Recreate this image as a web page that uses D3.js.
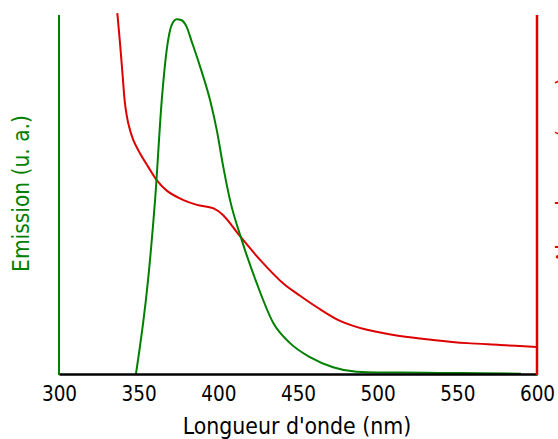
<!DOCTYPE html>
<html>
<head>
<meta charset="utf-8">
<script src="https://cdn.jsdelivr.net/npm/d3@7"></script>
<style>
  body { margin: 0; background: #fff; }
  text { font-family: "DejaVu Sans Condensed", "DejaVu Sans", sans-serif; font-stretch: condensed; }
</style>
</head>
<body>
<script>
// emission spectrum (green), arbitrary units
var emWave = [348.3, 355.9, 360.3, 364.5, 367.6, 370.7, 373.9, 376.6, 380.1, 383.3, 388.5, 394.8, 399.0, 403.1, 407.3, 414.7, 424.1, 434.5, 445.0, 457.5, 472.0, 486.8, 500, 514.0, 539, 565, 590];
var emValue = [0, 26.2, 48.5, 76.3, 90.3, 97.2, 98.8, 98.6, 96.7, 92.6, 85.7, 76.3, 68.0, 57.7, 48.5, 37.3, 25.3, 14.2, 8.6, 4.7, 1.9, 0.6, 0.4, 0.4, 0.3, 0.2, 0.1];

// absorption spectrum (red), arbitrary units
var abWave = [336.6, 338.3, 340.0, 341.4, 343.5, 346.6, 350.8, 356.0, 361.3, 367.8, 377.8, 386.6, 396.7, 402.9, 413.6, 426.2, 440.6, 451.3, 461.9, 476.4, 493.3, 514.0, 534.7, 556.1, 576.8, 600];
var abValue = [100.5, 92.1, 82.8, 75.4, 69.8, 65.2, 61.5, 57.7, 54.0, 51.0, 48.5, 47.1, 46.2, 44.3, 38.4, 31.8, 25.3, 21.8, 18.6, 14.8, 12.3, 10.6, 9.5, 8.6, 8.1, 7.5];

var xTicks = [300, 350, 400, 450, 500, 550, 600];

var width = 558, height = 439;
var mLeft = 59, mRight = 537, mTop = 15, mBottom = 374;

var svg = d3.select("body").append("svg")
  .attr("width", width)
  .attr("height", height);

var x = d3.scaleLinear().domain([300, 600]).range([mLeft, mRight]);
var y = d3.scaleLinear().domain([0, 100]).range([mBottom, mTop]);

svg.append("clipPath").attr("id", "plot")
  .append("rect")
  .attr("x", mLeft).attr("y", mTop - 2)
  .attr("width", mRight - mLeft).attr("height", mBottom - mTop + 2);

var pt = function(wave, vals) {
  return wave.map(function(w, i) { return [w, vals[i]]; });
};

var abLine = d3.line()
  .x(function(d) { return x(d[0]); })
  .y(function(d) { return y(d[1]); })
  .curve(d3.curveCatmullRom.alpha(0.5));

var emLine = d3.line()
  .x(function(d) { return x(d[0]); })
  .y(function(d) { return y(d[1]); })
  .curve(d3.curveMonotoneX);

svg.append("path")
  .attr("clip-path", "url(#plot)")
  .attr("d", abLine(pt(abWave, abValue)))
  .attr("fill", "none")
  .attr("stroke", "#dd0000")
  .attr("stroke-width", 2);

svg.append("path")
  .attr("clip-path", "url(#plot)")
  .attr("d", emLine(pt(emWave, emValue)))
  .attr("fill", "none")
  .attr("stroke", "#008000")
  .attr("stroke-width", 2);

// x axis: line + labels only, no tick marks
var xAxis = svg.append("g")
  .attr("transform", "translate(0," + mBottom + ")")
  .call(d3.axisBottom(x).tickValues(xTicks).tickSize(0).tickPadding(12));
xAxis.select(".domain").attr("stroke", "#000").attr("stroke-width", 2.5);
xAxis.selectAll("text")
  .attr("font-size", 20.5)
  .attr("font-family", null)
  .attr("fill", "#000");

// left (emission) axis
svg.append("line")
  .attr("x1", mLeft).attr("x2", mLeft)
  .attr("y1", mTop).attr("y2", mBottom + 1)
  .attr("stroke", "#008000").attr("stroke-width", 2);

// right (absorbance) axis
svg.append("line")
  .attr("x1", mRight).attr("x2", mRight)
  .attr("y1", mTop).attr("y2", mBottom + 1)
  .attr("stroke", "#dd0000").attr("stroke-width", 2.5);

svg.append("text")
  .attr("x", (mLeft + mRight) / 2 - 1)
  .attr("y", 433.5)
  .attr("text-anchor", "middle")
  .attr("font-size", 22.8)
  .attr("fill", "#000")
  .text("Longueur d'onde (nm)");

svg.append("text")
  .attr("transform", "translate(28.5,193.5)rotate(-90)")
  .attr("text-anchor", "middle")
  .attr("font-size", 22.5)
  .attr("fill", "#008000")
  .text("Emission (u. a.)");

// right label, mostly outside the picture (as in the original)
svg.append("text")
  .attr("transform", "translate(573,170.5)rotate(-90)")
  .attr("text-anchor", "middle")
  .attr("font-size", 22.5)
  .attr("fill", "#dd0000")
  .text("Absorbance (u. a.)");
</script>
</body>
</html>
